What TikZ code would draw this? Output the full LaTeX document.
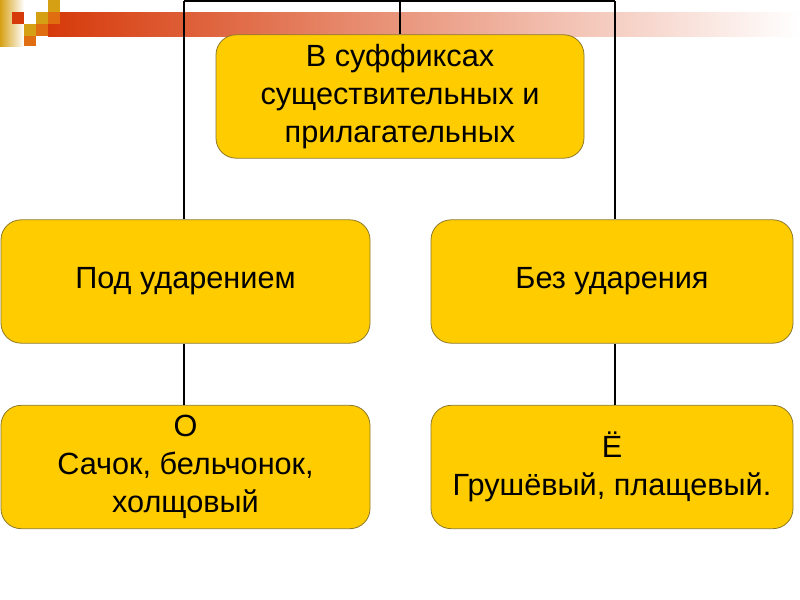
\documentclass[tikz,border=0pt]{standalone}
\usepackage{fontspec}
\setmainfont{Liberation Sans}
\usetikzlibrary{positioning}

\definecolor{boxfill}{RGB}{255,204,0}
\definecolor{boxline}{RGB}{140,120,40}
\definecolor{barred}{RGB}{214,58,10}
\definecolor{sqgold}{RGB}{214,160,20}
\definecolor{sqorange}{RGB}{224,110,16}

\tikzset{
  box/.style={draw=boxline, fill=boxfill, rounded corners=15pt, line width=0.6pt,
    minimum height=92.5pt, align=center, inner sep=0pt,
    font=\fontsize{23}{28.5}\selectfont},
  link/.style={line width=1.1pt, black}
}

\begin{document}
\begin{tikzpicture}[x=0.75pt, y=-0.75pt]
\useasboundingbox (0,0) rectangle (800,600);
% header decoration
\shade[left color=barred, right color=white] (48,12) rectangle (800,36);
\shade[left color=sqgold, right color=white] (0,0) rectangle (24,46);
\fill[barred] (12,12) rectangle (24,24);
\fill[sqgold] (36,12) rectangle (48,24);
\fill[sqgold] (48,0) rectangle (60,12);
\fill[sqorange] (48,12) rectangle (60,24);
\fill[sqgold] (24,24) rectangle (36,36);
\fill[sqorange] (36,24) rectangle (48,36);
\fill[sqorange] (24,36) rectangle (36,46);

% frame ends
\coordinate (tl) at (184,1);
\coordinate (tm) at (400,1);
\coordinate (tr) at (615,1);

\node [box, minimum width=276pt] (top) at (400,96.5)
  {В суффиксах\\существительных и\\прилагательных};
\node [box, minimum width=276.75pt] (stress) at (185.5,281.5) {Под ударением};
\node [box, minimum width=271.5pt] (nostress) at (612,281.5) {Без ударения};
\node [box, minimum width=276.75pt] (exo) at (185.5,467) {О\\Сачок, бельчонок,\\холщовый};
\node [box, minimum width=271.5pt] (exyo) at (612,467) {Ё\\Грушёвый, плащевый.};

\draw [link] (tl) -- (tr);
\draw [link] (tm) -- (top.north);
\draw [link] (tl) -- (tl |- stress.north);
\draw [link] (tr) -- (tr |- nostress.north);
\draw [link] (stress.south -| tl) -- (exo.north -| tl);
\draw [link] (nostress.south -| tr) -- (exyo.north -| tr);
\end{tikzpicture}
\end{document}
